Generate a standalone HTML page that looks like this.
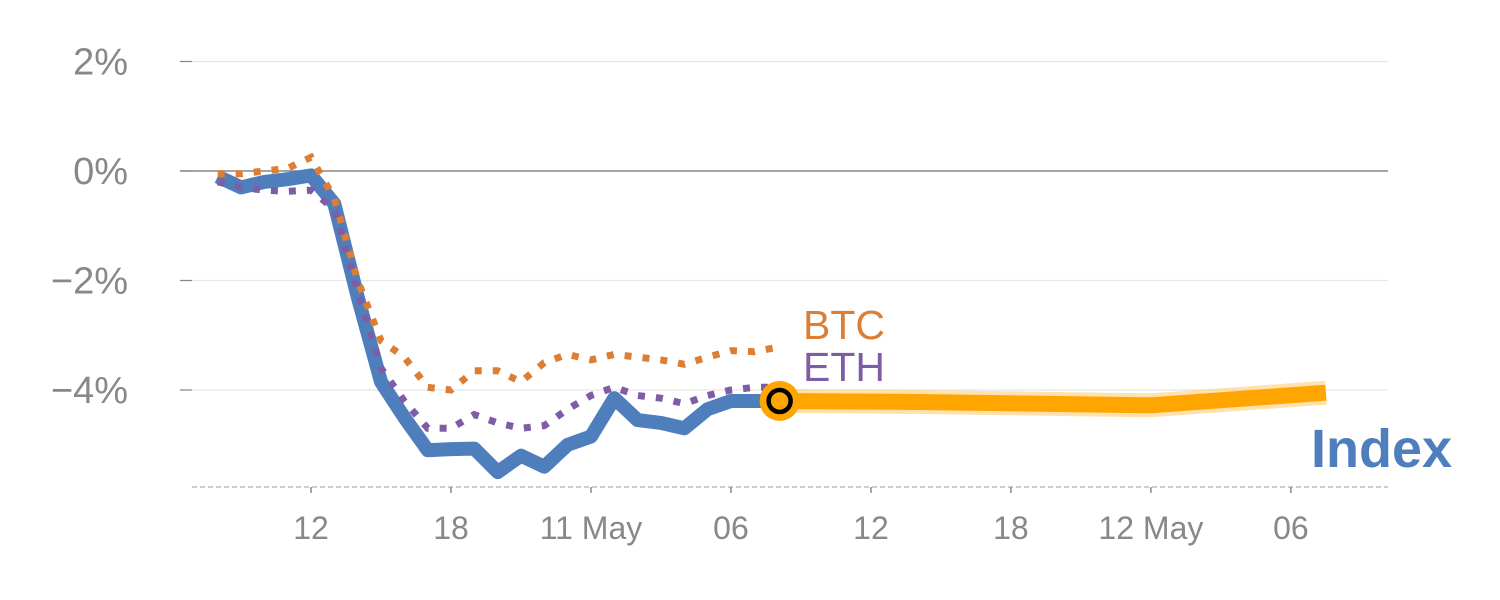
<!DOCTYPE html>
<html><head><meta charset="utf-8"><style>
body{margin:0;background:#fff;}
svg{display:block;font-family:"Liberation Sans",sans-serif;}
</style></head><body>
<svg id="chart" width="1500" height="600" viewBox="0 0 1500 600"></svg>
<script>
const hours = [];
for (let i = 0; i <= 24; i++) hours.push(i);
const indexValues = [-0.1,-0.3,-0.2,-0.15,-0.08,-0.6,-2.3,-3.85,-4.5,-5.1,-5.08,-5.07,-5.5,-5.2,-5.4,-5.0,-4.85,-4.15,-4.55,-4.6,-4.7,-4.35,-4.2,-4.2,-4.2];
const btcValues = [-0.05,-0.05,0,0.05,0.25,-0.5,-2.0,-3.1,-3.4,-3.95,-4.0,-3.65,-3.65,-3.85,-3.5,-3.35,-3.45,-3.35,-3.4,-3.45,-3.53,-3.4,-3.28,-3.3,-3.22];
const ethValues = [-0.2,-0.3,-0.35,-0.37,-0.35,-0.7,-2.2,-3.6,-4.2,-4.7,-4.7,-4.45,-4.6,-4.7,-4.65,-4.35,-4.1,-3.95,-4.1,-4.15,-4.25,-4.1,-4.0,-3.95,-3.95];
const forecastHours = [24,30,40,47.5];
const forecastValues = [-4.2,-4.22,-4.28,-4.05];
const yTicks = [2,0,-2,-4];
const yTickLabels = ["2%","0%","\u22122%","\u22124%"];
const xTicks = [4,10,16,22,28,34,40,46];
const xTickLabels = ["12","18","11 May","06","12","18","12 May","06"];

const svg = document.getElementById('chart');
const NS = 'http://www.w3.org/2000/svg';
const xS = h => 217.7 + 23.33 * h;
const yS = v => 171 - 54.75 * v;
function mk(tag, attrs, parent){const e=document.createElementNS(NS,tag);for(const k in attrs)e.setAttribute(k,attrs[k]);(parent||svg).appendChild(e);return e;}
function pts(xs, vs){return xs.map((h,i)=>xS(h).toFixed(1)+','+yS(vs[i]).toFixed(1)).join(' ');}

yTicks.forEach((t,i)=>{
  const g = mk('line',{x1:180,x2:1388,y1:yS(t),y2:yS(t),stroke:t===0?'#888':'#e6e6e6','stroke-width':t===0?1.5:1.2});
  
  
  const tk = mk('line',{x1:180,x2:192,y1:yS(t),y2:yS(t),stroke:'#888','stroke-width':1.2});
  
  
  const tx = mk('text',{x:128,y:yS(t)+13,'text-anchor':'end','font-size':38,fill:'#888'});
  tx.textContent = yTickLabels[i];
  
  
});
const base = mk('line',{x1:192,x2:1388,y1:487,y2:487,stroke:'#ccc','stroke-width':2,'stroke-dasharray':'5,3'});


xTicks.forEach((t,i)=>{
  const tk = mk('line',{x1:xS(t),x2:xS(t),y1:487,y2:493,stroke:'#888','stroke-width':1.5});
  
  
  const tx = mk('text',{x:xS(t),y:539,'text-anchor':'middle','font-size':32,fill:'#888'});
  tx.textContent = xTickLabels[i];
  
  
});

const fh = mk('polyline',{points:pts(forecastHours,forecastValues),fill:'none',stroke:'#ffcf7a','stroke-width':24,'stroke-opacity':0.6,'stroke-linejoin':'round'});


const fl = mk('polyline',{points:pts(forecastHours,forecastValues),fill:'none',stroke:'#ffa500','stroke-width':16,'stroke-linejoin':'round'});



const idx = mk('polyline',{points:pts(hours,indexValues),fill:'none',stroke:'#4e7fbc','stroke-width':14,'stroke-linejoin':'round'});


const btc = mk('polyline',{points:pts(hours,btcValues),fill:'none',stroke:'#dc7f35','stroke-width':7,'stroke-dasharray':'7,11'});


const eth = mk('polyline',{points:pts(hours,ethValues),fill:'none',stroke:'#7d5ea6','stroke-width':7,'stroke-dasharray':'7,11'});



const last = hours.length-1;
const m1 = mk('circle',{cx:xS(hours[last])+2,cy:yS(indexValues[last]),r:20,fill:'#ffa500'});


const m2 = mk('circle',{cx:xS(hours[last])+2,cy:yS(indexValues[last]),r:11,fill:'#ffa500',stroke:'#000','stroke-width':4.5});



const lb = mk('text',{x:803,y:339,'font-size':41,fill:'#dc7f35'});
lb.textContent='BTC';


const le = mk('text',{x:803,y:381,'font-size':41,fill:'#7d5ea6'});
le.textContent='ETH';


const li = mk('text',{x:1311,y:467,'font-size':54,'font-weight':'bold',fill:'#4e7fbc'});
li.textContent='Index';


</script>
</body></html>
